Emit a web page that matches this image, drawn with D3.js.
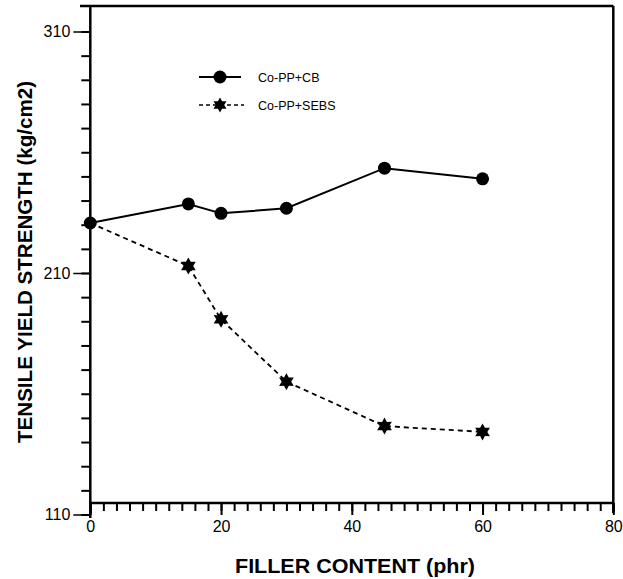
<!DOCTYPE html>
<html><head><meta charset="utf-8">
<script src="https://cdn.jsdelivr.net/npm/d3@7"></script>
<style>body{margin:0;background:#fff}svg{display:block}text{font-family:"Liberation Sans",Arial,sans-serif}</style>
</head><body>
<script>
const fillerContent = [0, 15, 20, 30, 45, 60];
const cbValues = [230.7, 238.6, 234.7, 236.8, 253.4, 249.0];
const sebsValues = [230.7, 212.9, 190.8, 165.0, 146.6, 144.2];
const seriesNames = ["Co-PP+CB", "Co-PP+SEBS"];
const xTickLabels = [0, 20, 40, 60, 80];
const yTickLabels = [110, 210, 310];

const W = 623, H = 579;
const svg = d3.select("body").append("svg").attr("width", W).attr("height", H);
const x = d3.scaleLinear().domain([0, 80]).range([90.3, 613.3]);
const y = d3.scaleLinear().domain([110, 310]).range([514.5, 31.5]);
const frameTop = 6, xAxisY = 503;

// frame
svg.append("line").attr("x1", 80).attr("x2", 613.5).attr("y1", frameTop).attr("y2", frameTop).attr("stroke", "#000").attr("stroke-width", 2.5);
svg.append("line").attr("x1", 613.3).attr("x2", 613.3).attr("y1", frameTop).attr("y2", 513).attr("stroke", "#000").attr("stroke-width", 2.5);

// y axis
const yAxis = d3.axisLeft(y).tickValues(d3.range(110, 320, 10)).tickSize(9).tickFormat("");
const gy = svg.append("g").attr("transform", "translate(90.3,0)").call(yAxis);
gy.select(".domain").remove();
gy.selectAll(".tick line").attr("stroke-width", 2);
const gyMaj = svg.append("g").attr("transform", "translate(90.3,0)")
  .call(d3.axisLeft(y).tickValues(yTickLabels).tickSize(17).tickPadding(3));
gyMaj.select(".domain").remove();
gyMaj.selectAll(".tick line").attr("stroke-width", 1.5);
gyMaj.selectAll("text").attr("font-size", 16).attr("fill", "#000");
svg.append("line").attr("x1", 90.3).attr("x2", 90.3).attr("y1", frameTop).attr("y2", 518).attr("stroke", "#000").attr("stroke-width", 2.5);

// x axis
const gx = svg.append("g").attr("transform", `translate(0,${xAxisY})`)
  .call(d3.axisBottom(x).tickValues(d3.range(0, 81, 2)).tickSize(8).tickFormat(""));
gx.select(".domain").remove();
gx.selectAll(".tick line").attr("stroke-width", 2);
const gxMaj = svg.append("g").attr("transform", `translate(0,${xAxisY})`)
  .call(d3.axisBottom(x).tickValues(xTickLabels).tickSize(12).tickPadding(6));
gxMaj.select(".domain").remove();
gxMaj.selectAll(".tick line").attr("stroke-width", 2);
gxMaj.selectAll("text").attr("font-size", 16).attr("fill", "#000");
svg.append("line").attr("x1", 90.3).attr("x2", 613.5).attr("y1", xAxisY).attr("y2", xAxisY).attr("stroke", "#000").attr("stroke-width", 2.5);

// axis titles
svg.append("text").attr("x", 355).attr("y", 573).attr("text-anchor", "middle")
  .attr("font-size", 20).attr("font-weight", "bold")
  .attr("textLength", 240).attr("lengthAdjust", "spacingAndGlyphs").text("FILLER CONTENT (phr)");
svg.append("text").attr("transform", "translate(32,262) rotate(-90)").attr("text-anchor", "middle")
  .attr("font-size", 20).attr("font-weight", "bold")
  .attr("textLength", 362).attr("lengthAdjust", "spacingAndGlyphs").text("TENSILE YIELD STRENGTH (kg/cm2)");

function star6(cx, cy, R, r) {
  let p = [];
  for (let i = 0; i < 12; i++) {
    const a = -Math.PI / 2 + i * Math.PI / 6;
    const rr = i % 2 === 0 ? R : r;
    p.push([cx + rr * Math.cos(a), cy + rr * Math.sin(a)]);
  }
  return "M" + p.map(q => q.join(",")).join("L") + "Z";
}

const line = d3.line().x(d => x(d[0])).y(d => y(d[1]));
const cbData = fillerContent.map((f, i) => [f, cbValues[i]]);
const sebsData = fillerContent.map((f, i) => [f, sebsValues[i]]);

svg.append("path").attr("d", line(sebsData)).attr("fill", "none").attr("stroke", "#000").attr("stroke-width", 1.8).attr("stroke-dasharray", "5,4");
svg.append("path").attr("d", line(cbData)).attr("fill", "none").attr("stroke", "#000").attr("stroke-width", 2);

svg.selectAll(".cb").data(cbData).enter().append("circle")
  .attr("cx", d => x(d[0])).attr("cy", d => y(d[1])).attr("r", 6.5).attr("fill", "#000");
svg.selectAll(".sebs").data(sebsData.slice(1)).enter().append("path")
  .attr("d", d => star6(x(d[0]), y(d[1]), 8.5, 4.8)).attr("fill", "#000");

// legend
const lg = svg.append("g");
lg.append("line").attr("x1", 199).attr("x2", 241).attr("y1", 77).attr("y2", 77).attr("stroke", "#000").attr("stroke-width", 2);
lg.append("circle").attr("cx", 220).attr("cy", 77).attr("r", 6.5).attr("fill", "#000");
lg.append("text").attr("x", 258).attr("y", 82).attr("font-size", 12.5).text(seriesNames[0]);
lg.append("line").attr("x1", 199).attr("x2", 244).attr("y1", 105).attr("y2", 105).attr("stroke", "#000").attr("stroke-width", 1.5).attr("stroke-dasharray", "4,3");
lg.append("path").attr("d", star6(220, 105, 7.5, 4.2)).attr("fill", "#000");
lg.append("text").attr("x", 258).attr("y", 110).attr("font-size", 12.5).text(seriesNames[1]);
</script>
</body></html>
